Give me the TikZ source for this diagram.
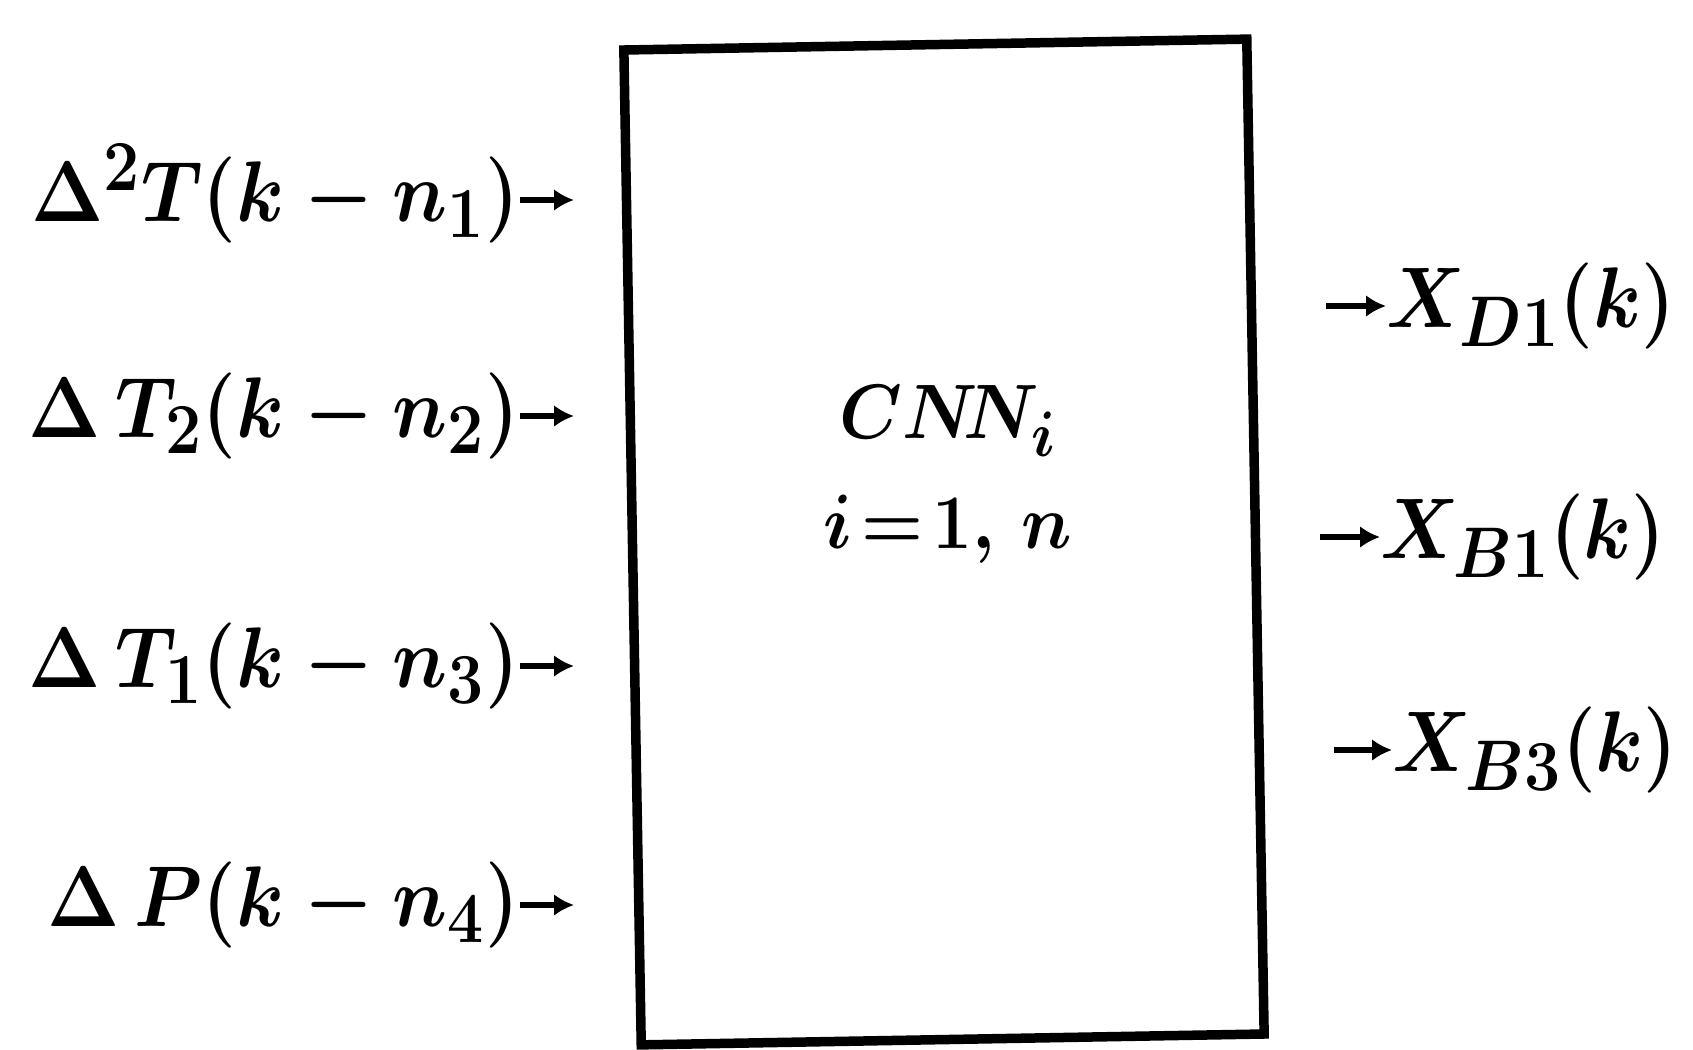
\documentclass[tikz,border=0pt]{standalone}
\usetikzlibrary{arrows.meta}
\begin{document}
\begin{tikzpicture}[x=1pt,y=-1pt]
\tikzset{
 lbl/.style={inner sep=0pt, text height=18.66pt, text depth=6.22pt, font=\Huge\boldmath, xscale=3.1, yscale=3.46, transform shape},
 ctext/.style={inner sep=0pt, font=\Huge\boldmath, xscale=2.85, yscale=3.1, transform shape},
 arr/.style={line width=6.5pt, -{Latex[length=20pt,width=22pt]}},
 cnnbox/.style={draw, line width=9.5pt, minimum width=623pt, minimum height=995pt, inner sep=0pt}
}
\useasboundingbox[fill=white] (0,0) rectangle (1693,1049);
% main box
\node[cnnbox, rotate=1] (box) at (944,542) {};
\node[ctext] (c1) at (948,421) {$CN\!N_i$};
\node[ctext] (c2) at (948,529) {$i\!=\!1,\,n$};
% inputs
\node[lbl, anchor=east] (l1) at (520,200) {$\Delta^2T(k-n_1)$};
\node[lbl, anchor=east] (l2) at (520,416) {$\Delta\,T_2(k-n_2)$};
\node[lbl, anchor=east] (l3) at (520,666) {$\Delta\,T_1(k-n_3)$};
\node[lbl, anchor=east] (l4) at (520,905) {$\Delta\,P(k-n_4)$};
\coordinate (t1) at (574,200);
\coordinate (t2) at (574,416);
\coordinate (t3) at (574,666);
\coordinate (t4) at (574,905);
\draw[arr] (l1.east) -- (t1);
\draw[arr] (l2.east) -- (t2);
\draw[arr] (l3.east) -- (t3);
\draw[arr] (l4.east) -- (t4);
% outputs
\coordinate (s1) at (1326,306);
\coordinate (s2) at (1320,537);
\coordinate (s3) at (1334,750);
\node[lbl, anchor=west] (r1) at (1386,306) {$X_{D1}(k)$};
\node[lbl, anchor=west] (r2) at (1380,537) {$X_{B1}(k)$};
\node[lbl, anchor=west] (r3) at (1392,750) {$X_{B3}(k)$};
\draw[arr] (s1) -- (r1.west);
\draw[arr] (s2) -- (r2.west);
\draw[arr] (s3) -- (r3.west);
\end{tikzpicture}
\end{document}
